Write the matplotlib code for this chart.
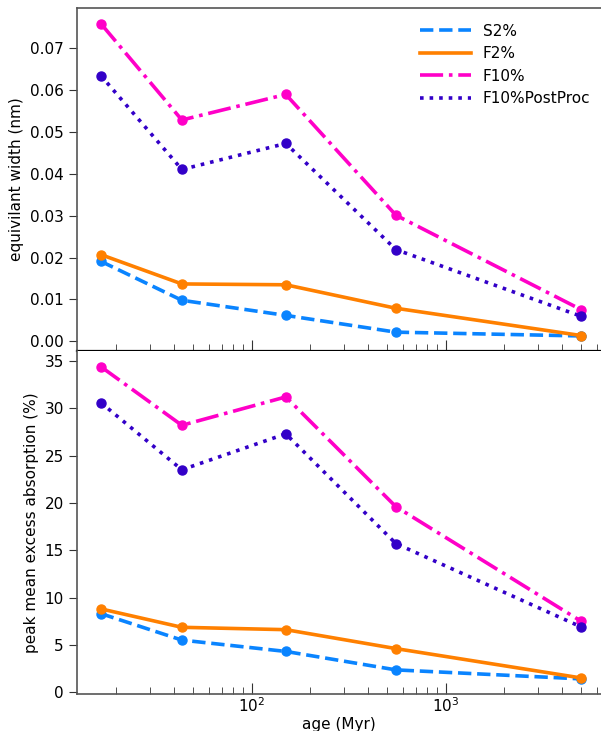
import matplotlib
matplotlib.use('Agg')
import matplotlib.pyplot as plt

ages = [16.7, 43.7, 150, 554, 4980]   # Myr

# equivalent width (nm)
ew_s2 = [0.0191, 0.0098, 0.0062, 0.0022, 0.0013]
ew_f2 = [0.0207, 0.0137, 0.0135, 0.0079, 0.0014]
ew_f10 = [0.0758, 0.0528, 0.0589, 0.0301, 0.0076]
ew_f10pp = [0.0634, 0.0410, 0.0472, 0.0219, 0.0060]

# peak mean excess absorption (%)
pk_s2 = [8.3, 5.5, 4.3, 2.35, 1.4]
pk_f2 = [8.8, 6.85, 6.6, 4.6, 1.5]
pk_f10 = [34.4, 28.2, 31.2, 19.6, 7.5]
pk_f10pp = [30.6, 23.5, 27.3, 15.7, 6.9]

labels = ['S2%', 'F2%', 'F10%', 'F10%PostProc']
colors = ['#0a84ff', '#ff8000', '#ff00c8', '#3300c8']
styles = ['--', '-', '-.', ':']

plt.rcParams['font.size'] = 11

fig = plt.figure(figsize=(6.01, 7.31), dpi=100)
ax1 = fig.add_axes([0.128, 0.5198, 0.872, 0.4692])
ax2 = fig.add_axes([0.128, 0.0506, 0.872, 0.4692], sharex=ax1)

for ax, series in [(ax1, [ew_s2, ew_f2, ew_f10, ew_f10pp]),
                   (ax2, [pk_s2, pk_f2, pk_f10, pk_f10pp])]:
    for vals, lab, c, ls in zip(series, labels, colors, styles):
        ax.plot(ages, vals, ls, color=c, lw=2.6, label=lab)
        ax.plot(ages, vals, 'o', color=c, ms=6.5)
    ax.set_xscale('log')
    ax.spines['right'].set_visible(False)
    for s in ['left', 'top', 'bottom']:
        ax.spines[s].set_color('#555555')
        ax.spines[s].set_linewidth(1.2)
    ax.tick_params(axis='x', which='major', direction='in', length=8, color='#333333')
    ax.tick_params(axis='x', which='minor', direction='in', length=5, color='#333333')
    ax.tick_params(axis='y', direction='out', length=6, color='#333333')

ax1.spines['bottom'].set_color('black')
ax1.spines['bottom'].set_linewidth(1.6)
ax2.spines['top'].set_visible(False)
ax1.tick_params(axis='x', which='both', labelbottom=False)
ax2.tick_params(axis='x', which='major', pad=2)

ax1.set_xlim(12.58, 6318)
ax1.set_ylim(-0.0023, 0.0795)
ax1.set_yticks([0, 0.01, 0.02, 0.03, 0.04, 0.05, 0.06, 0.07])
ax1.set_yticklabels(['0.00', '0.01', '0.02', '0.03', '0.04', '0.05', '0.06', '0.07'])
ax2.set_ylim(-0.2, 36.05)
ax2.set_yticks([0, 5, 10, 15, 20, 25, 30, 35])

ax1.set_ylabel('equivilant width (nm)')
ax2.set_ylabel('peak mean excess absorption (%)')
ax2.set_xlabel('age (Myr)', labelpad=1)

ax1.legend(loc='upper right', bbox_to_anchor=(1.006, 0.995), frameon=False,
           handlelength=3.3, fontsize=11)

fig.savefig('out.png', dpi=100)
